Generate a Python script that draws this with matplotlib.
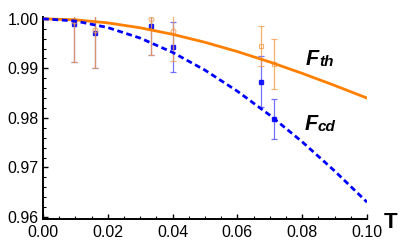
import numpy as np
import matplotlib.pyplot as plt
from matplotlib.ticker import MultipleLocator, FormatStrFormatter

plt.rcParams['font.family'] = ['Liberation Sans', 'DejaVu Sans']
plt.rcParams['lines.scale_dashes'] = False

### curves
T_curve = [0.00, 0.01, 0.02, 0.03, 0.04, 0.05, 0.06, 0.07, 0.08, 0.09, 0.10]
F_th = [1.0, 0.99979, 0.99917, 0.99818, 0.99686, 0.99525, 0.99338, 0.99128, 0.98899, 0.98655, 0.9840]
F_cd = [1.0, 0.99955, 0.99823, 0.99610, 0.99322, 0.98963, 0.98538, 0.98055, 0.97517, 0.96930, 0.9630]

### measured points
T_pts = [0.0096, 0.016, 0.0333, 0.040, 0.0673, 0.0713]
cd_val = [0.99893, 0.99703, 0.99859, 0.99434, 0.98733, 0.97980]
cd_err = [0.0076, 0.0069, 0.0059, 0.0050, 0.0052, 0.0041]
th_val = [0.99954, 0.99771, 0.99994, 0.99758, 0.99455, 0.99091]
th_err = [0.0082, 0.0076, 0.0072, 0.0061, 0.0040, 0.0050]
th_marker = ['o', 'o', 'o', 'o', 's', 's']

fig = plt.figure(figsize=(4.03, 2.48), dpi=100)
ax = fig.add_axes([0.1067, 0.1169, 0.804, 0.8154])

ax.errorbar(T_pts, cd_val, yerr=cd_err, fmt='s', color='#0000ff', ms=3.2,
            ecolor='#5a5aff', elinewidth=0.9, capsize=2.2, capthick=0.9, alpha=0.85, zorder=2)
for i in range(len(T_pts)):
    ax.errorbar([T_pts[i]], [th_val[i]], yerr=[th_err[i]], fmt=th_marker[i], color='#f39c4a',
                mfc='none', ms=3.5, mew=0.8, elinewidth=0.9, capsize=2.2, capthick=0.9,
                alpha=0.8, zorder=3)

ax.plot(T_curve, F_th, color='#ff8000', lw=2.0, zorder=4)
ax.plot(T_curve, F_cd, color='#0000ff', lw=2.0, dashes=(4.2, 2.6), zorder=4)

ax.text(0.0812, 0.9907, 'F', fontsize=15.5, fontweight='bold', style='italic')
ax.text(0.0852, 0.9904, 'th', fontsize=11, fontweight='bold', style='italic')
ax.text(0.0806, 0.97758, 'F', fontsize=15.5, fontweight='bold', style='italic')
ax.text(0.0846, 0.9773, 'cd', fontsize=11, fontweight='bold', style='italic')

ax.set_xlim(0, 0.1)
ax.set_ylim(0.9596, 1.0004)
for s in ['top', 'right']:
    ax.spines[s].set_visible(False)
for s in ['left', 'bottom']:
    ax.spines[s].set_linewidth(1.4)

ax.xaxis.set_major_locator(MultipleLocator(0.02))
ax.xaxis.set_minor_locator(MultipleLocator(0.005))
ax.yaxis.set_major_locator(MultipleLocator(0.01))
ax.yaxis.set_minor_locator(MultipleLocator(0.002))
ax.xaxis.set_major_formatter(FormatStrFormatter('%.2f'))
ax.yaxis.set_major_formatter(FormatStrFormatter('%.2f'))
ax.tick_params(which='major', direction='in', length=3.5, width=1.0, labelsize=11.5, pad=4)
ax.tick_params(which='minor', direction='in', length=2, width=0.8)
ax.tick_params(axis='y', pad=3)

fig.text(384/403, 1 - 228/248, 'T', fontsize=16, fontweight='bold')

fig.savefig('out.png', dpi=100)
